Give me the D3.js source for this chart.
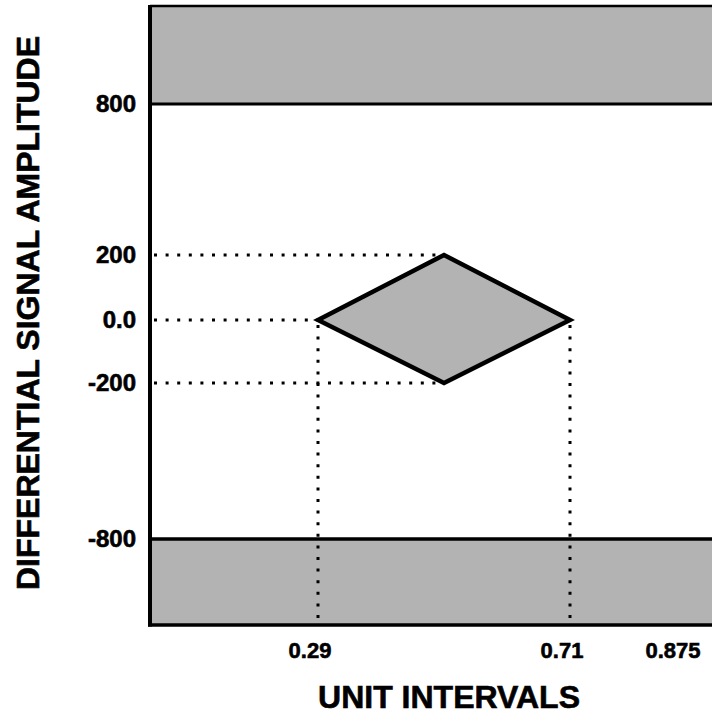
<!DOCTYPE html>
<html>
<head>
<meta charset="utf-8">
<script src="https://cdn.jsdelivr.net/npm/d3@7/dist/d3.min.js"></script>
<style>
  html, body { margin: 0; padding: 0; background: #fff; }
  svg { display: block; }
  text { font-family: "Liberation Sans", Arial, Helvetica, sans-serif; font-weight: bold; fill: #000; stroke: #000; stroke-width: 0.6; }
</style>
</head>
<body>
<svg id="chart" width="712" height="715"></svg>
<script>
// ---- data ----
const yTickValues = [800, 200, 0, -200, -800];
const yTickLabels = ["800", "200", "0.0", "-200", "-800"];
const xTickValues = [0.29, 0.71, 0.875];
const xTickLabels = ["0.29", "0.71", "0.875"];
const maskX = [0.29, 0.5, 0.71, 0.5];
const maskY = [0, 200, 0, -200];
const upperLimit = 800;
const lowerLimit = -800;
const yMax = 1000;
const yMin = -1000;
const xTitle = "UNIT INTERVALS";
const yTitle = "DIFFERENTIAL SIGNAL AMPLITUDE";

// ---- scales ----
const y = d3.scaleLinear()
  .domain([yMin, lowerLimit, -200, 0, 200, upperLimit, yMax])
  .range([625, 539, 383, 320, 255, 104, 5]);
const x = d3.scaleLinear()
  .domain([0.29, 0.71, 0.875])
  .range([318, 570, 681]);

const svg = d3.select("#chart");
const left = 150, right = 716;
const gray = "#b3b3b3";

// bands
svg.append("rect").attr("x", left).attr("y", y(yMax))
  .attr("width", right - left).attr("height", y(upperLimit) - y(yMax))
  .attr("fill", gray);
svg.append("rect").attr("x", left).attr("y", y(lowerLimit))
  .attr("width", right - left).attr("height", y(yMin) - y(lowerLimit))
  .attr("fill", gray);

// band edges
svg.append("line").attr("x1", left).attr("x2", right)
  .attr("y1", y(yMax) + 1).attr("y2", y(yMax) + 1)
  .attr("stroke", "#000").attr("stroke-width", 2.5);
svg.append("line").attr("x1", left).attr("x2", right)
  .attr("y1", y(upperLimit)).attr("y2", y(upperLimit))
  .attr("stroke", "#000").attr("stroke-width", 3);
svg.append("line").attr("x1", left).attr("x2", right)
  .attr("y1", y(lowerLimit)).attr("y2", y(lowerLimit))
  .attr("stroke", "#000").attr("stroke-width", 3.5);

// dotted guides
const dot = g => g.attr("stroke", "#000").attr("stroke-width", 3)
  .attr("stroke-dasharray", "3,8.6").attr("fill", "none");
const pts = maskX.map((v, i) => [x(v), y(maskY[i])]);
// horizontals
[[maskY[1], maskX[1]], [maskY[0], maskX[0]], [maskY[3], maskX[3]]].forEach(([vy, vx]) => {
  svg.append("line").attr("x1", left + 4).attr("x2", x(vx))
    .attr("y1", y(vy)).attr("y2", y(vy)).call(dot);
});
// verticals
[maskX[0], maskX[2]].forEach(vx => {
  svg.append("line").attr("x1", x(vx)).attr("x2", x(vx))
    .attr("y1", y(0) + 5).attr("y2", y(yMin) - 2).call(dot);
});

// diamond mask
svg.append("polygon")
  .attr("points", pts.map(p => p.join(",")).join(" "))
  .attr("fill", gray).attr("stroke", "#000").attr("stroke-width", 4.5)
  .attr("stroke-linejoin", "miter");

// axes lines
svg.append("line").attr("x1", left).attr("x2", left)
  .attr("y1", y(yMax)).attr("y2", y(yMin) + 1.5)
  .attr("stroke", "#000").attr("stroke-width", 4);
svg.append("line").attr("x1", left - 2).attr("x2", right)
  .attr("y1", y(yMin)).attr("y2", y(yMin))
  .attr("stroke", "#000").attr("stroke-width", 3.5);

// y tick labels
svg.selectAll(".ytick").data(yTickValues).enter().append("text")
  .attr("class", "ytick")
  .attr("x", 136).attr("y", d => y(d) + 8)
  .attr("text-anchor", "end").attr("font-size", 24)
  .text((d, i) => yTickLabels[i]);

// x tick labels
svg.selectAll(".xtick").data(xTickValues).enter().append("text")
  .attr("class", "xtick")
  .attr("x", d => x(d) - 8).attr("y", 658)
  .attr("text-anchor", "middle").attr("font-size", 22)
  .text((d, i) => xTickLabels[i]);

// titles
svg.append("text").attr("x", 449).attr("y", 708)
  .attr("text-anchor", "middle").attr("font-size", 32).text(xTitle);
svg.append("text")
  .attr("transform", "translate(39,313) rotate(-90)")
  .attr("text-anchor", "middle").attr("font-size", 32).text(yTitle);
</script>
</body>
</html>
